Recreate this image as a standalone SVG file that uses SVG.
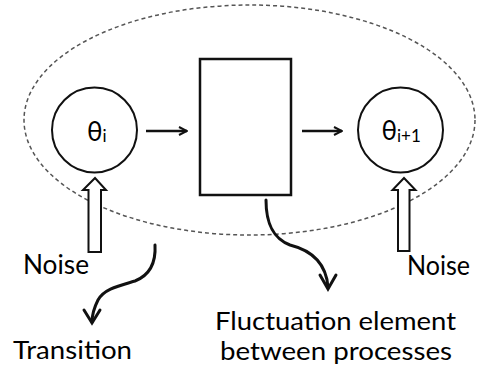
<svg xmlns="http://www.w3.org/2000/svg" width="478" height="376" viewBox="0 0 478 376">
  <style>
    .lbl { font-family: Lato, "Open Sans", "Liberation Sans", sans-serif; font-size: 26px; fill: #000; }
    .cap { font-family: Lato, "Open Sans", "Liberation Sans", sans-serif; font-size: 24.5px; fill: #000; }
    .sym { font-family: Lato, "Open Sans", "Liberation Sans", sans-serif; fill: #000; }
    .node { fill: #fff; stroke: #111; stroke-width: 2; }
    .box { fill: #fff; stroke: #111; stroke-width: 2.5; }
    .flow { fill: none; stroke: #111; stroke-width: 2.5; }
    .curl { fill: none; stroke: #111; stroke-width: 3; stroke-linecap: round; }
    .hollow { fill: #fff; stroke: #111; stroke-width: 2; stroke-linejoin: miter; }
    .group { fill: none; stroke: #555; stroke-width: 1.5; stroke-dasharray: 4 3; }
  </style>
  <defs>
    <marker id="vhead" viewBox="0 0 10 10" refX="9" refY="5" markerWidth="4" markerHeight="4" orient="auto" markerUnits="strokeWidth">
      <path d="M1,1 L9,5 L1,9" fill="none" stroke="#111" stroke-width="2"/>
    </marker>
  </defs>

  <!-- dashed boundary around one transition step -->
  <ellipse id="boundary" class="group" cx="249.5" cy="120" rx="225.5" ry="115"/>

  <!-- state θi -->
  <g id="theta-i">
    <circle class="node" cx="94.5" cy="130" r="42.5"/>
    <text class="sym" x="87" y="141" font-size="26">θ<tspan font-size="17" dy="1">i</tspan></text>
  </g>

  <!-- fluctuation element -->
  <g id="fluctuation">
    <rect class="box" x="200" y="59" width="91" height="136"/>
  </g>

  <!-- state θi+1 -->
  <g id="theta-i1">
    <circle class="node" cx="400.5" cy="130" r="42.5"/>
    <text class="sym" x="381.5" y="140" font-size="26">θ<tspan font-size="17" dy="1.5">i+1</tspan></text>
  </g>

  <!-- noise inputs -->
  <g id="noise-left">
    <polygon class="hollow" points="95,178 106,190 101,190 101,252 88.5,252 88.5,190 83,190"/>
    <text class="lbl" x="23" y="274" textLength="66" lengthAdjust="spacingAndGlyphs">Noise</text>
  </g>
  <g id="noise-right">
    <polygon class="hollow" points="404,178 415.5,190 409.5,190 409.5,251 398,251 398,190 392.5,190"/>
    <text class="lbl" x="407" y="275" textLength="63" lengthAdjust="spacingAndGlyphs">Noise</text>
  </g>

  <!-- connectors -->
  <g id="connectors">
    <line class="flow" x1="146" y1="131" x2="187" y2="131" marker-end="url(#vhead)"/>
    <line class="flow" x1="302" y1="131" x2="342" y2="131" marker-end="url(#vhead)"/>
    <!-- callout to "Transition" -->
    <path class="curl" d="M155,245 C156,262 150,275 135,281 C118,286 104,289 98,300 C94,308 92,315 92,322"/>
    <path class="curl" d="M84,310 L92,323 L100,310"/>
    <!-- callout to the fluctuation label -->
    <path class="curl" d="M266,200 C266,222 272,238 290,245 C310,250 326,262 328,287"/>
    <path class="curl" d="M320,275 L328,289 L336,275"/>
  </g>

  <!-- captions -->
  <g id="captions">
    <text class="cap" x="13" y="359" textLength="119" lengthAdjust="spacingAndGlyphs">Transition</text>
    <text class="cap" x="215" y="330" textLength="241" lengthAdjust="spacingAndGlyphs">Fluctuation element</text>
    <text class="cap" x="220" y="360" textLength="232" lengthAdjust="spacingAndGlyphs">between processes</text>
  </g>
</svg>
